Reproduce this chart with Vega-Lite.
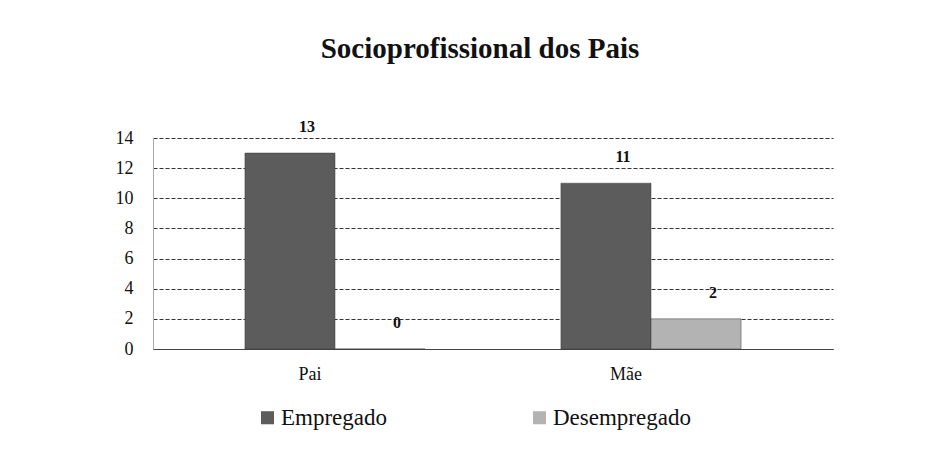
{
  "$schema": "https://vega.github.io/schema/vega-lite/v6.json",
  "width": 680,
  "height": 211,
  "autosize": "none",
  "padding": {"left": 153, "top": 138, "right": 109, "bottom": 119},
  "background": "white",
  "config": {
    "view": {"stroke": null},
    "font": "Liberation Serif"
  },
  "title": {
    "text": "Socioprofissional dos Pais",
    "font": "Liberation Serif",
    "fontSize": 29,
    "fontWeight": "bold",
    "color": "#111111",
    "offset": 55,
    "dx": -13
  },
  "data": {
    "values": [
      {"parent": "Pai", "situacao": "Empregado", "valor": 13},
      {"parent": "Pai", "situacao": "Desempregado", "valor": 0},
      {"parent": "Mãe", "situacao": "Empregado", "valor": 11},
      {"parent": "Mãe", "situacao": "Desempregado", "valor": 2}
    ]
  },
  "encoding": {
    "x": {
      "field": "parent",
      "type": "nominal",
      "sort": ["Pai", "Mãe"],
      "scale": {"paddingInner": 0.43, "paddingOuter": 0.291},
      "axis": {
        "title": null,
        "labelAngle": 0,
        "labelFont": "Liberation Serif",
        "labelFontSize": 18,
        "labelColor": "#111111",
        "labelPadding": 16,
        "labelOffset": -25,
        "ticks": false,
        "domainColor": "#444444",
        "domainWidth": 1.2
      }
    },
    "xOffset": {"field": "situacao", "type": "nominal", "sort": ["Empregado", "Desempregado"]},
    "y": {
      "field": "valor",
      "type": "quantitative",
      "scale": {"domain": [0, 14], "nice": false},
      "axis": {
        "title": null,
        "values": [0, 2, 4, 6, 8, 10, 12, 14],
        "labelFont": "Liberation Serif",
        "labelFontSize": 18,
        "labelColor": "#111111",
        "labelPadding": 20,
        "ticks": false,
        "domain": true,
        "domainColor": "#aaaaaa",
        "grid": true,
        "gridColor": "#333333",
        "gridDash": [4, 2],
        "gridWidth": 1
      }
    }
  },
  "layer": [
    {
      "mark": {"type": "bar", "stroke": "#3a3a3a", "strokeWidth": 0.5},
      "encoding": {
        "color": {
          "field": "situacao",
          "type": "nominal",
          "sort": ["Empregado", "Desempregado"],
          "scale": {"domain": ["Empregado", "Desempregado"], "range": ["#5c5c5c", "#b3b3b3"]},
          "legend": {
            "title": null,
            "orient": "none",
            "direction": "horizontal",
            "legendX": 103,
            "legendY": 268,
            "symbolType": "square",
            "symbolSize": 170,
            "symbolStrokeWidth": 0,
            "labelFont": "Liberation Serif",
            "labelFontSize": 23,
            "labelColor": "#111111",
            "labelOffset": 2,
            "columnPadding": 140
          }
        }
      }
    },
    {
      "mark": {"type": "text", "dx": 17, "dy": -26, "font": "Liberation Serif", "fontSize": 16, "fontWeight": "bold", "color": "#111111", "baseline": "middle"},
      "encoding": {"text": {"field": "valor", "type": "quantitative"}}
    }
  ]
}
